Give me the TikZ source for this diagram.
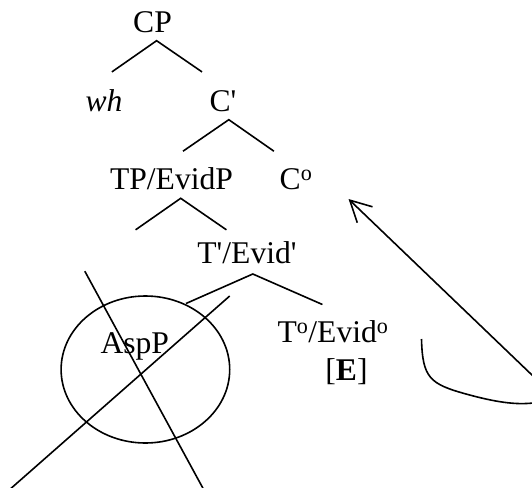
\documentclass[tikz,border=0pt]{standalone}
\usepackage{fontspec}
\setmainfont{Liberation Serif}[Ligatures=TeXOff]
\usetikzlibrary{arrows.meta,shapes.geometric}
\begin{document}
\begin{tikzpicture}[x=1pt,y=-1pt,
  lbl/.style={anchor=base,inner sep=0pt,font=\fontsize{31.6}{36}\selectfont},
  br/.style={line width=1.6pt},
  strike/.style={line width=1.6pt},
  mv/.style={line width=1.6pt,-{Straight Barb[length=21pt,width=22pt,line width=1.6pt]}}]
\useasboundingbox (0,0) rectangle (532,487);
\clip (0,0) rectangle (532,487);
% labels
\node[lbl] (cp) at (152.5,33) {CP};
\node[lbl] (wh) at (104,111) {\itshape wh};
\node[lbl] (cbar) at (223,111) {C'};
\node[lbl] (tp) at (171.5,189.3) {TP/EvidP};
\node[lbl] (c0) at (296,189.3) {C\textsuperscript{o}};
\node[lbl] (tbar) at (247,263.8) {T'/Evid'};
\node[lbl] (t0) at (333,342.5) {T\textsuperscript{o}/Evid\textsuperscript{o}};
\node[lbl] (e) at (346.5,380) {[\textbf{E}]};
\node[lbl] (asp) at (134.8,353.7) {AspP};
% branch points
\coordinate (cpA) at (156.6,40.7);
\coordinate (cpL) at (111.9,71.9);
\coordinate (cpR) at (202,71.9);
\coordinate (cbA) at (228.8,119.7);
\coordinate (cbL) at (183,151.2);
\coordinate (cbR) at (273.9,151.2);
\coordinate (tpA) at (180.7,198.3);
\coordinate (tpL) at (135.6,229.8);
\coordinate (tpR) at (226.4,229.8);
\coordinate (tbA) at (252.8,274);
\coordinate (tbL) at (186,303.5);
\coordinate (tbR) at (322.4,304.5);
\draw[br] (cpL) -- (cpA) -- (cpR);
\draw[br] (cbL) -- (cbA) -- (cbR);
\draw[br] (tpL) -- (tpA) -- (tpR);
\draw[br] (tbL) -- (tbA) -- (tbR);
% circled and struck AspP
\node[draw,line width=1.6pt,ellipse,minimum width=168.6pt,minimum height=147pt,inner sep=0pt] (circ) at (145.4,369.5) {};
\coordinate (s1a) at (84.8,271.2);
\coordinate (s1b) at (205,492);
\coordinate (s2a) at (229.7,296);
\coordinate (s2b) at (8,491);
\draw[strike] (s1a) -- (s1b);
\draw[strike] (s2a) -- (s2b);
% movement arrow
\coordinate (tip) at (348.5,199);
\coordinate (mvend) at (533,376);
\coordinate (cvs) at (421.5,339);
\coordinate (cve) at (533,403);
\draw[br] (cvs) .. controls (422.5,378) and (430,384) .. (466,394) .. controls (495,402) and (515,405) .. (cve);
\draw[mv] (mvend) -- (tip);
\end{tikzpicture}
\end{document}
